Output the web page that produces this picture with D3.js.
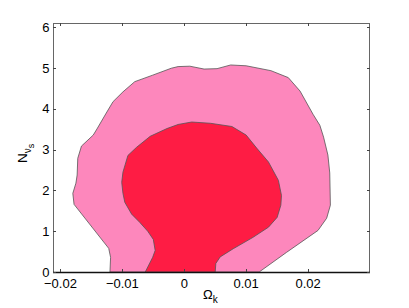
<!DOCTYPE html>
<html>
<head>
<meta charset="utf-8">
<script src="https://cdn.jsdelivr.net/npm/d3@7"></script>
<style>
  body { margin: 0; background: #fff; }
  svg { display: block; font-family: "Liberation Sans", Arial, Helvetica, sans-serif; }
  text { fill: #000; }
</style>
</head>
<body>
<svg id="chart" width="409" height="308"></svg>
<script>
// tick values
var xTicks = [-0.02, -0.01, 0, 0.01, 0.02];
var yTicks = [0, 1, 2, 3, 4, 5, 6];

// 95% contour [Omega_k, N_nu_s]
var outer95 = [
    [-0.0120, 0], [-0.0119, 0.36], [-0.0122, 0.58], [-0.0178, 1.66], [-0.0180, 1.93],
    [-0.0175, 2.18], [-0.0173, 2.38], [-0.0172, 2.79], [-0.0166, 3.09], [-0.0147, 3.36],
    [-0.0141, 3.51], [-0.0126, 3.90], [-0.0115, 4.18], [-0.0099, 4.42], [-0.0080, 4.67],
    [-0.0051, 4.83], [-0.0021, 5.00], [-0.0010, 5.04], [0.0009, 5.05], [0.0032, 4.98],
    [0.0053, 4.99], [0.0075, 5.08], [0.0100, 5.06], [0.0140, 4.94], [0.0168, 4.77],
    [0.0187, 4.44], [0.0208, 3.87], [0.0219, 3.60], [0.0225, 3.31], [0.0232, 2.87],
    [0.0235, 2.43], [0.0236, 1.64], [0.0230, 1.32], [0.0216, 1.02], [0.0165, 0.48],
    [0.0121, 0]
];

// 68% contour
var inner68 = [
    [-0.0063, 0], [-0.0051, 0.36], [-0.0047, 0.53], [-0.0050, 0.80], [-0.0059, 1.00],
    [-0.0072, 1.22], [-0.0085, 1.42], [-0.0096, 1.71], [-0.0099, 1.93], [-0.0101, 2.20],
    [-0.0099, 2.45], [-0.0091, 2.86], [-0.0077, 3.06], [-0.0055, 3.33], [-0.0028, 3.52],
    [-0.0010, 3.62], [0.0012, 3.68], [0.0042, 3.65], [0.0077, 3.57], [0.0100, 3.36],
    [0.0117, 3.04], [0.0136, 2.70], [0.0152, 2.25], [0.0157, 1.88], [0.0156, 1.64],
    [0.0150, 1.34], [0.0136, 1.10], [0.0111, 0.85], [0.0079, 0.57], [0.0058, 0.37],
    [0.0051, 0.21], [0.0050, 0]
];

var box = { left: 53, right: 370, top: 23, bottom: 272 };
var svg = d3.select('#chart');

var x = d3.scaleLinear().domain([-0.0212, 0.03]).range([box.left, box.right]);
var y = d3.scaleLinear().domain([0, 6.11]).range([box.bottom, box.top]);

var line = d3.line()
    .x(function(d) { return x(d[0]); })
    .y(function(d) { return y(d[1]); })
    .curve(d3.curveLinearClosed);

var contours = svg.append('g');
contours.append('path')
    .attr('d', line(outer95))
    .style('fill', '#fd87bc')
    .style('stroke', '#555')
    .style('stroke-width', 0.8);
contours.append('path')
    .attr('d', line(inner68))
    .style('fill', '#fe1c44')
    .style('stroke', '#555')
    .style('stroke-width', 0.8);

// box
svg.append('rect')
    .attr('x', box.left + 0.5).attr('y', box.top + 0.5)
    .attr('width', box.right - box.left - 1).attr('height', box.bottom - box.top)
    .style('fill', 'none')
    .style('stroke', '#666')
    .style('shape-rendering', 'crispEdges');
svg.append('line')
    .attr('x1', box.left).attr('x2', box.right)
    .attr('y1', box.bottom + 0.5).attr('y2', box.bottom + 0.5)
    .style('stroke', '#111')
    .style('stroke-width', 1.5);

var tickLen = 3;
var ticks = svg.append('g')
    .style('stroke', '#444')
    .style('shape-rendering', 'crispEdges');
xTicks.forEach(function(t) {
    var px = Math.round(x(t)) + 0.5;
    ticks.append('line').attr('x1', px).attr('x2', px)
        .attr('y1', box.bottom).attr('y2', box.bottom - tickLen);
    ticks.append('line').attr('x1', px).attr('x2', px)
        .attr('y1', box.top).attr('y2', box.top + tickLen);
});
yTicks.forEach(function(t) {
    var py = Math.round(y(t)) + 0.5;
    ticks.append('line').attr('x1', box.left).attr('x2', box.left + tickLen)
        .attr('y1', py).attr('y2', py);
    ticks.append('line').attr('x1', box.right).attr('x2', box.right - tickLen)
        .attr('y1', py).attr('y2', py);
});

var fmt = function(v) { return v === 0 ? '0' : d3.format('.2f')(v).replace('-', '\u2212'); };

svg.append('g').selectAll('text')
    .data(xTicks).enter().append('text')
    .attr('x', function(d) { return x(d); })
    .attr('y', 287.5)
    .attr('text-anchor', 'middle')
    .style('font-size', '13px')
    .text(fmt);

svg.append('g').selectAll('text')
    .data(yTicks).enter().append('text')
    .attr('x', 49.5)
    .attr('y', function(d) { return y(d) + 4.5; })
    .attr('text-anchor', 'end')
    .style('font-size', '13px')
    .text(function(d) { return d; });

// axis titles
var xt = svg.append('text')
    .attr('x', 203)
    .attr('y', 299)
    .style('font-size', '13px');
xt.append('tspan').text('\u03a9');
xt.append('tspan').attr('dy', 4).style('font-size', '10px').text('k');

var yt = svg.append('text')
    .attr('transform', 'translate(27,163) rotate(-90)')
    .style('font-size', '13.5px');
yt.append('tspan').text('N');
yt.append('tspan').attr('dy', 4).style('font-size', '10px').text('\u03bd');
yt.append('tspan').attr('dy', 3).style('font-size', '9px').text('s');
</script>
</body>
</html>
